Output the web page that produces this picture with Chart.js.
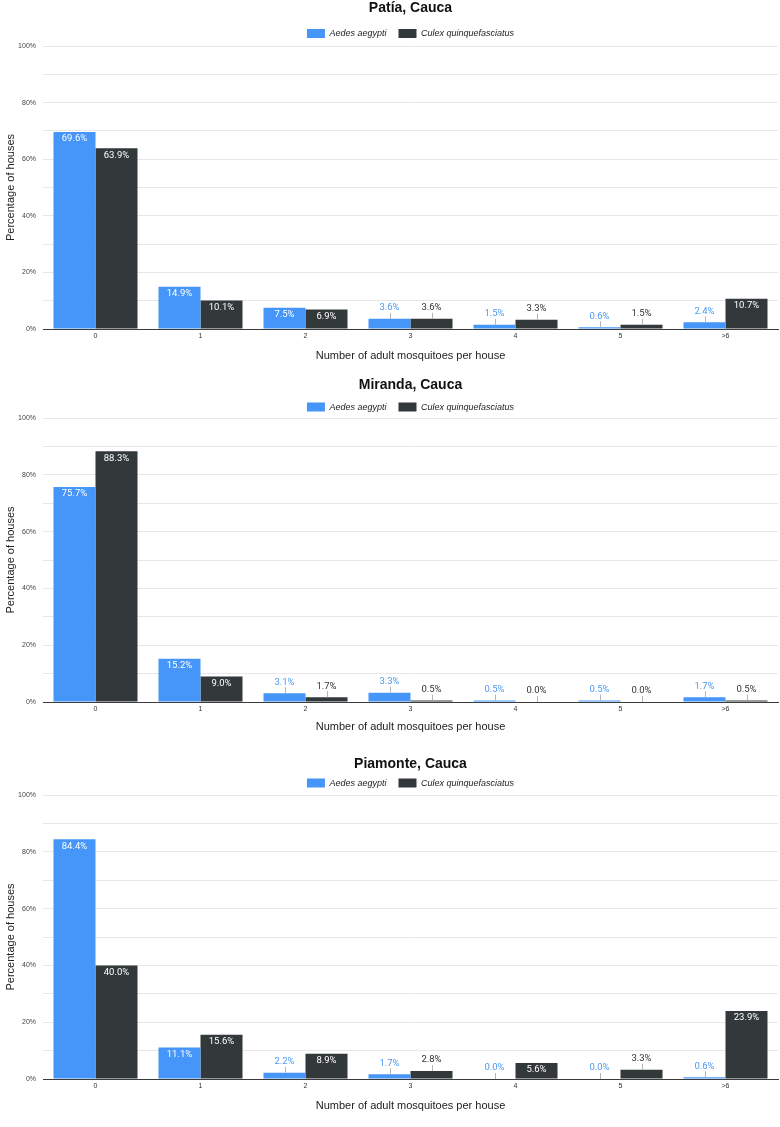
<!DOCTYPE html>
<html>
<head>
<meta charset="utf-8">
<script src="https://cdn.jsdelivr.net/npm/chart.js@4/dist/chart.umd.min.js"></script>
<style>
  html, body { margin: 0; padding: 0; background: #fff; }
  body { width: 780px; height: 1127px; overflow: hidden; position: relative; }
  .grafica { position: absolute; left: 0; width: 821px; }
</style>
</head>
<body>
<div class="grafica" id="g1" style="top:1px;height:364px"><canvas id="c1"></canvas></div>
<div class="grafica" id="g2" style="top:378px;height:360px"><canvas id="c2"></canvas></div>
<div class="grafica" id="g3" style="top:757px;height:358px"><canvas id="c3"></canvas></div>
<script>
// categorias del eje x
let categorias = ['0', '1', '2', '3', '4', '5', '>6'];
let especies = ['Aedes aegypti', 'Culex quinquefasciatus'];

// Patía
let patiaAedes = [69.6, 14.9, 7.5, 3.6, 1.5, 0.6, 2.4];
let patiaCulex = [63.9, 10.1, 6.9, 3.6, 3.3, 1.5, 10.7];
// Miranda
let mirandaAedes = [75.7, 15.2, 3.1, 3.3, 0.5, 0.5, 1.7];
let mirandaCulex = [88.3, 9.0, 1.7, 0.5, 0.0, 0.0, 0.5];
// Piamonte
let piamonteAedes = [84.4, 11.1, 2.2, 1.7, 0.0, 0.0, 0.6];
let piamonteCulex = [40.0, 15.6, 8.9, 2.8, 5.6, 3.3, 23.9];

let azul = '#4596f8';
let oscuro = '#33393b';
let colorEtiqueta = ['#4b9af5', '#333333'];

// etiquetas de valor encima / dentro de cada barra
let etiquetasBarras = {
    id: 'etiquetasBarras',
    afterDatasetsDraw(chart) {
        let ctx = chart.ctx;
        ctx.save();
        ctx.font = '9.5px Roboto, sans-serif';
        ctx.textAlign = 'center';
        ctx.textBaseline = 'middle';
        chart.data.datasets.forEach(function (ds, i) {
            let meta = chart.getDatasetMeta(i);
            meta.data.forEach(function (barra, j) {
                let valor = ds.data[j];
                let texto = valor.toFixed(1) + '%';
                if (valor >= 5) {
                    ctx.fillStyle = '#ffffff';
                    ctx.fillText(texto, barra.x, barra.y + 7);
                } else {
                    ctx.strokeStyle = '#b5b5b5';
                    ctx.lineWidth = 1;
                    ctx.beginPath();
                    ctx.moveTo(Math.round(barra.x) + 0.5, barra.y);
                    ctx.lineTo(Math.round(barra.x) + 0.5, barra.y - 6);
                    ctx.stroke();
                    ctx.fillStyle = colorEtiqueta[i];
                    ctx.fillText(texto, barra.x, barra.y - 11);
                }
            });
        });
        ctx.restore();
    }
};

function crearGrafica(idCanvas, titulo, aedes, culex, ajuste) {
    let ctx = document.getElementById(idCanvas);
    return new Chart(ctx, {
        type: 'bar',
        data: {
            labels: categorias,
            datasets: [
                { label: especies[0], data: aedes, backgroundColor: azul, borderWidth: 0 },
                { label: especies[1], data: culex, backgroundColor: oscuro, borderWidth: 0 }
            ]
        },
        options: {
            responsive: true,
            maintainAspectRatio: false,
            animation: false,
            layout: { padding: 0 },
            datasets: { bar: { categoryPercentage: 0.8, barPercentage: 1.0 } },
            scales: {
                x: {
                    grid: { display: false, drawTicks: false },
                    border: { display: true, color: '#3a3a3a', width: 1 },
                    ticks: { font: { family: 'Arial, "Liberation Sans", sans-serif', size: 7 }, color: '#333', padding: 3 },
                    title: {
                        display: true,
                        text: 'Number of adult mosquitoes per house',
                        font: { family: 'Arial, "Liberation Sans", sans-serif', size: 11 },
                        color: '#222',
                        padding: { top: 0, bottom: ajuste.tituloX }
                    },
                    afterFit: function (s) { s.height = 36; }
                },
                y: {
                    min: 0,
                    max: 100,
                    grid: { color: '#e7e7e7', drawTicks: false },
                    border: { display: false },
                    ticks: {
                        stepSize: 10,
                        padding: 7,
                        font: { family: 'Arial, "Liberation Sans", sans-serif', size: 7 },
                        color: '#444',
                        callback: function (v) { return v % 20 === 0 ? v + '%' : ''; }
                    },
                    title: {
                        display: true,
                        text: 'Percentage of houses',
                        font: { family: 'Arial, "Liberation Sans", sans-serif', size: 11 },
                        color: '#222',
                        padding: { top: 4, bottom: 0 }
                    },
                    afterFit: function (s) { s.width = 43; }
                },
                // eje vacio a la derecha para centrar titulo y leyenda sobre el area
                yR: {
                    type: 'linear',
                    position: 'right',
                    grid: { display: false, drawTicks: false },
                    border: { display: false },
                    ticks: { display: false },
                    afterFit: function (s) { s.width = 43; }
                }
            },
            plugins: {
                title: {
                    display: true,
                    text: titulo,
                    font: { family: 'Arial, "Liberation Sans", sans-serif', size: 14, weight: 'bold', lineHeight: 1 },
                    color: '#111',
                    padding: { top: 0, bottom: ajuste.titulo }
                },
                legend: {
                    position: 'top',
                    maxHeight: ajuste.leyenda,
                    labels: {
                        boxWidth: 18,
                        boxHeight: 9,
                        padding: 12,
                        color: '#222',
                        font: { family: 'Arial, "Liberation Sans", sans-serif', size: 9, style: 'italic' }
                    }
                },
                tooltip: { enabled: false }
            }
        },
        plugins: [etiquetasBarras]
    });
}

crearGrafica('c1', 'Patía, Cauca', patiaAedes, patiaCulex, { titulo: 2, leyenda: 29, tituloX: 2.4 });
crearGrafica('c2', 'Miranda, Cauca', mirandaAedes, mirandaCulex, { titulo: -1.5, leyenda: 27.5, tituloX: 4.4 });
crearGrafica('c3', 'Piamonte, Cauca', piamonteAedes, piamonteCulex, { titulo: -4.5, leyenda: 28.5, tituloX: 2.4 });
</script>
</body>
</html>
